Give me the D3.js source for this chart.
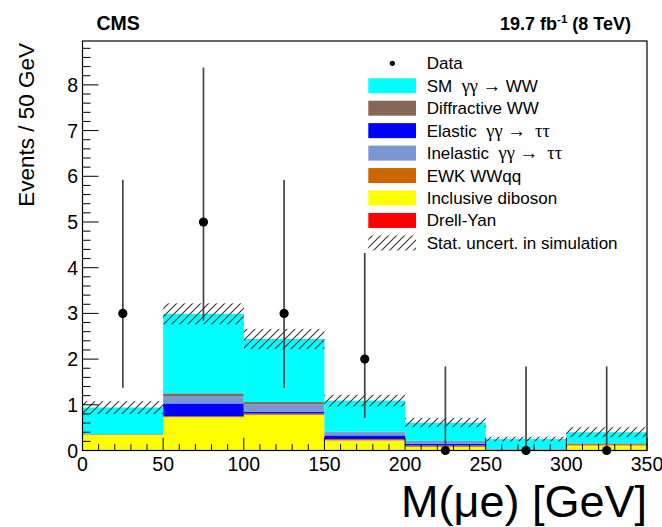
<!DOCTYPE html>
<html>
<head>
<meta charset="utf-8">
<script src="https://cdn.jsdelivr.net/npm/d3@7.9.0/dist/d3.min.js"></script>
<style>
  body { margin: 0; background: #fff; }
  svg { display: block; font-family: "Liberation Sans", Arial, sans-serif; }
</style>
</head>
<body>
<svg id="chart" width="662" height="527"></svg>
<script>
// bins of M(mu e), GeV
const binEdges = [0, 50, 100, 150, 200, 250, 300, 350];

// stacked backgrounds, bottom to top
const drellYan   = [0.00, 0.00, 0.00, 0.00, 0.00, 0.01, 0.00];
const diboson    = [0.34, 0.73, 0.78, 0.22, 0.08, 0.00, 0.11];
const ewkWWqq    = [0.01, 0.02, 0.03, 0.03, 0.03, 0.01, 0.03];
const elasticTT  = [0.00, 0.28, 0.04, 0.08, 0.04, 0.00, 0.00];
const inelasticTT = [0.01, 0.16, 0.16, 0.07, 0.06, 0.01, 0.02];
const diffWW     = [0.00, 0.06, 0.05, 0.01, 0.00, 0.00, 0.00];
const smWW       = [0.58, 1.74, 1.38, 0.68, 0.40, 0.22, 0.24];
const statErr    = [0.14, 0.23, 0.22, 0.13, 0.10, 0.05, 0.11];

// data with asymmetric poisson errors
const dataCounts  = [3, 5, 3, 2, 0, 0, 0];
const dataErrLow  = [1.63, 2.16, 1.63, 1.29, 0, 0, 0];
const dataErrHigh = [2.92, 3.38, 2.92, 2.64, 1.84, 1.84, 1.84];

const yTicks = [0, 1, 2, 3, 4, 5, 6, 7, 8];
const xTicks = [0, 50, 100, 150, 200, 250, 300, 350];

const series = [
  { key: "dy",   values: drellYan,    color: "#ff0000" },
  { key: "vv",   values: diboson,     color: "#ffff00" },
  { key: "ewk",  values: ewkWWqq,     color: "#cc6600" },
  { key: "el",   values: elasticTT,   color: "#0000ff" },
  { key: "inel", values: inelasticTT, color: "#7a97d4" },
  { key: "diff", values: diffWW,      color: "#876656" },
  { key: "sm",   values: smWW,        color: "#00ffff" },
];

const legendItems = [
  { type: "data", label: "Data" },
  { type: "box", color: "#00ffff", label: ["SM  ", "γγ → ", "WW"] },
  { type: "box", color: "#876656", label: ["Diffractive WW"] },
  { type: "box", color: "#0000ff", label: ["Elastic  ", "γγ →  ττ"] },
  { type: "box", color: "#7a97d4", label: ["Inelastic  ", "γγ →  ττ"] },
  { type: "box", color: "#cc6600", label: ["EWK WWqq"] },
  { type: "box", color: "#ffff00", label: ["Inclusive diboson"] },
  { type: "box", color: "#ff0000", label: ["Drell-Yan"] },
  { type: "hatch", label: ["Stat. uncert. in simulation"] },
];

const svg = d3.select("#chart");
const plotLeft = 82.5, plotRight = 647, plotTop = 41, plotBottom = 450.5;

const x = d3.scaleLinear().domain([0, 350]).range([plotLeft, plotRight]);
const y = d3.scaleLinear().domain([0, 8.96]).range([plotBottom, plotTop]);

const defs = svg.append("defs");
defs.append("pattern")
  .attr("id", "hatch")
  .attr("patternUnits", "userSpaceOnUse")
  .attr("width", 8).attr("height", 8)
  .append("path")
  .attr("d", "M-2,2 L2,-2 M0,8 L8,0 M6,10 L10,6")
  .attr("stroke", "#333")
  .attr("stroke-width", 1.1);

// stack per bin
const bins = binEdges.slice(0, -1).map((lo, i) => ({ lo, hi: binEdges[i + 1], i }));
const rows = bins.map((b) => {
  const r = { i: b.i };
  series.forEach((s) => (r[s.key] = s.values[b.i]));
  return r;
});
const stack = d3.stack().keys(series.map((s) => s.key))(rows);

svg.append("g")
  .selectAll("g")
  .data(stack)
  .join("g")
  .attr("fill", (d, k) => series[k].color)
  .selectAll("rect")
  .data((d) => d)
  .join("rect")
  .attr("x", (d) => x(bins[d.data.i].lo))
  .attr("width", (d) => x(bins[d.data.i].hi) - x(bins[d.data.i].lo))
  .attr("y", (d) => y(d[1]))
  .attr("height", (d) => Math.max(0, y(d[0]) - y(d[1])));

// stat uncertainty band
const totals = bins.map((b) => d3.sum(series, (s) => s.values[b.i]));
svg.append("g")
  .selectAll("rect")
  .data(bins)
  .join("rect")
  .attr("x", (d) => x(d.lo))
  .attr("width", (d) => x(d.hi) - x(d.lo))
  .attr("y", (d) => y(totals[d.i] + statErr[d.i]))
  .attr("height", (d) => y(totals[d.i] - statErr[d.i]) - y(totals[d.i] + statErr[d.i]))
  .attr("fill", "url(#hatch)");

// data error bars
const centers = bins.map((b) => (b.lo + b.hi) / 2);
svg.append("g")
  .selectAll("line")
  .data(bins)
  .join("line")
  .attr("x1", (d) => x(centers[d.i]))
  .attr("x2", (d) => x(centers[d.i]))
  .attr("y1", (d) => y(dataCounts[d.i] - dataErrLow[d.i]))
  .attr("y2", (d) => y(dataCounts[d.i] + dataErrHigh[d.i]))
  .attr("stroke", "#444")
  .attr("stroke-width", 1.7);

// legend (white box hides what is under it)
const legend = svg.append("g");
legend.append("rect")
  .attr("x", 362).attr("y", 52)
  .attr("width", plotRight - 362 - 0.5).attr("height", 201)
  .attr("fill", "#fff");

const rowY = (k) => 63.3 + k * 22.45;
legendItems.forEach((it, k) => {
  const cy = rowY(k);
  if (it.type === "data") {
    legend.append("circle").attr("cx", 392.3).attr("cy", cy).attr("r", 2.6).attr("fill", "#000");
  } else if (it.type === "box") {
    legend.append("rect").attr("x", 368.3).attr("y", cy - 7.5).attr("width", 47.7).attr("height", 15)
      .attr("fill", it.color);
  } else {
    legend.append("rect").attr("x", 368.3).attr("y", cy - 7.5).attr("width", 47.7).attr("height", 15)
      .attr("fill", "url(#hatch)");
  }
  const t = legend.append("text")
    .attr("x", 426.7).attr("y", cy + 6)
    .attr("font-size", 17).attr("fill", "#000");
  const parts = Array.isArray(it.label) ? it.label : [it.label];
  parts.forEach((p) => {
    const greek = /[γτ→]/.test(p);
    t.append("tspan")
      .attr("font-family", greek ? "'Liberation Serif', 'DejaVu Serif', serif" : null)
      .attr("font-size", greek ? 18.5 : null)
      .style("white-space", "pre")
      .text(p);
  });
});

// data markers on top
svg.append("g")
  .selectAll("circle")
  .data(bins)
  .join("circle")
  .attr("cx", (d) => x(centers[d.i]))
  .attr("cy", (d) => y(dataCounts[d.i]))
  .attr("r", 4.6)
  .attr("fill", "#000");

// frame
svg.append("rect")
  .attr("x", plotLeft).attr("y", plotTop)
  .attr("width", plotRight - plotLeft).attr("height", plotBottom - plotTop)
  .attr("fill", "none").attr("stroke", "#000").attr("stroke-width", 1.2);

// y ticks (inside, pointing right)
const yMinor = d3.range(0, 8.96, 0.2).filter((v) => Math.abs(v - Math.round(v)) > 1e-6);
const gy = svg.append("g").attr("stroke", "#000").attr("stroke-width", 1);
gy.selectAll("line.maj").data(yTicks).join("line").attr("class", "maj")
  .attr("x1", plotLeft).attr("x2", plotLeft + 16)
  .attr("y1", (d) => y(d)).attr("y2", (d) => y(d));
gy.selectAll("line.min").data(yMinor).join("line").attr("class", "min")
  .attr("x1", plotLeft).attr("x2", plotLeft + 8)
  .attr("y1", (d) => y(d)).attr("y2", (d) => y(d));
svg.append("g").selectAll("text").data(yTicks).join("text")
  .attr("x", 78).attr("y", (d) => y(d) + 7)
  .attr("text-anchor", "end").attr("font-size", 19.5)
  .text((d) => d);

// x ticks (inside, pointing up)
const xMinor = d3.range(0, 351, 10).filter((v) => v % 50 !== 0);
const gx = svg.append("g").attr("stroke", "#000").attr("stroke-width", 1);
gx.selectAll("line.maj").data(xTicks).join("line").attr("class", "maj")
  .attr("x1", (d) => x(d)).attr("x2", (d) => x(d))
  .attr("y1", plotBottom).attr("y2", plotBottom - 12.7);
gx.selectAll("line.min").data(xMinor).join("line").attr("class", "min")
  .attr("x1", (d) => x(d)).attr("x2", (d) => x(d))
  .attr("y1", plotBottom).attr("y2", plotBottom - 6.3);
svg.append("g").selectAll("text").data(xTicks).join("text")
  .attr("x", (d) => x(d)).attr("y", 471)
  .attr("text-anchor", "middle").attr("font-size", 19.5)
  .text((d) => d);

// titles
svg.append("text")
  .attr("transform", "translate(34,43) rotate(-90)")
  .attr("text-anchor", "end").attr("font-size", 22.5)
  .text("Events / 50 GeV");

svg.append("text")
  .attr("x", plotRight).attr("y", 516.5)
  .attr("text-anchor", "end").attr("font-size", 45)
  .text("M(μe) [GeV]");

svg.append("text")
  .attr("x", 96.5).attr("y", 30)
  .attr("font-size", 19.5).attr("font-weight", "bold")
  .text("CMS");

const lumi = svg.append("text")
  .attr("x", 631).attr("y", 30)
  .attr("text-anchor", "end").attr("font-size", 18).attr("font-weight", "bold");
lumi.append("tspan").text("19.7 fb");
lumi.append("tspan").attr("dy", -7).attr("font-size", 11.5).text("-1");
lumi.append("tspan").attr("dy", 7).text(" (8 TeV)");
</script>
</body>
</html>
